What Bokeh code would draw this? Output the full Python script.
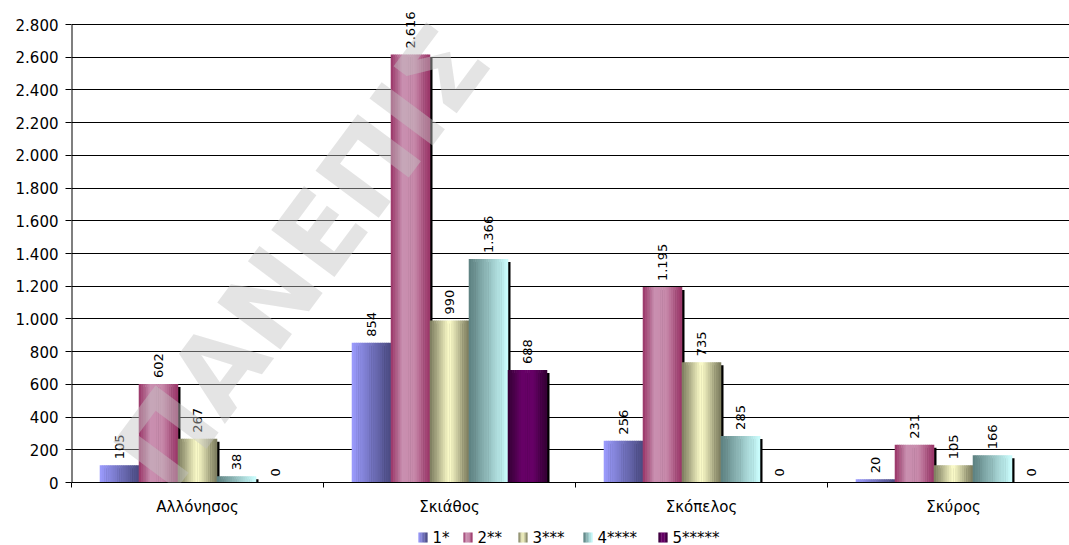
import math
from bokeh.plotting import figure
from bokeh.layouts import column
from bokeh.models import (ColumnDataSource, Range1d, FixedTicker, Label)
from bokeh.embed import file_html
from bokeh.resources import INLINE
from bokeh.core.properties import value

# ---- data ----
categories = ["Αλλόνησος", "Σκιάθος", "Σκόπελος", "Σκύρος"]
series_names = ["1*", "2**", "3***", "4****", "5*****"]
s1 = [105, 854, 256, 20]
s2 = [602, 2616, 1195, 231]
s3 = [267, 990, 735, 105]
s4 = [38, 1366, 285, 166]
s5 = [0, 688, 0, 0]
y_ticks = list(range(0, 2801, 200))

series_values = [s1, s2, s3, s4, s5]

# gradient stops per series (position, colour)
gradients = [
    [(0.0, "#9C9CFF"), (1.0, "#4A4A80")],
    [(0.0, "#993366"), (0.3, "#C98FB0"), (0.6, "#C88AAB"), (1.0, "#993366")],
    [(0.0, "#7A7A5C"), (0.5, "#FFFFCC"), (1.0, "#7A7A5C")],
    [(0.0, "#5C7F7F"), (1.0, "#CCFFFF")],
    [(0.0, "#330033"), (0.35, "#660066"), (0.65, "#660066"), (1.0, "#330033")],
]


def hex2rgb(h):
    h = h.lstrip("#")
    return tuple(int(h[i:i + 2], 16) for i in (0, 2, 4))


def grad_color(stops, t):
    for (p0, c0), (p1, c1) in zip(stops[:-1], stops[1:]):
        if p0 <= t <= p1:
            f = 0 if p1 == p0 else (t - p0) / (p1 - p0)
            a, b = hex2rgb(c0), hex2rgb(c1)
            return "#%02x%02x%02x" % tuple(int(round(a[k] + (b[k] - a[k]) * f)) for k in range(3))
    return stops[-1][1]


def fmt(v):
    return f"{v:,}".replace(",", ".")


# ---- main figure ----
LEFT = 71
FRAME_W = 998
PX_PER_UNIT_Y = 458.0 / 2800.0      # 2800 units over 458 px
TOP_PAD_PX = 24                      # room above the 2.800 line for labels
FRAME_H = 458 + TOP_PAD_PX
Y_END = FRAME_H / PX_PER_UNIT_Y
BOTTOM = 47

p = figure(width=LEFT + FRAME_W, height=FRAME_H + BOTTOM, output_backend="svg",
           toolbar_location=None, min_border_left=LEFT, min_border_top=0,
           min_border_right=0, min_border_bottom=BOTTOM,
           x_range=Range1d(0, FRAME_W / 252.0), y_range=Range1d(0, Y_END))
p.outline_line_color = None
p.background_fill_color = "white"
p.border_fill_color = "white"

n_cat = len(categories)
n_ser = len(series_names)
bar_w = 39.0 / 252.0
centers = [i + 0.5 for i in range(n_cat)]
px_x = 1.0 / 252.0
px_y = 1.0 / PX_PER_UNIT_Y


def bar_x(ci, si):
    return centers[ci] + (si - (n_ser - 1) / 2.0) * bar_w


p.xgrid.visible = False
p.ygrid.ticker = FixedTicker(ticks=y_ticks)
p.ygrid.grid_line_color = "black"
p.ygrid.grid_line_width = 1

# shadows
for si, vals in enumerate(series_values):
    xs = [bar_x(ci, si) + 2.5 * px_x for ci in range(n_cat) if vals[ci] > 0]
    tops = [v - 3 * px_y for v in vals if v > 0]
    p.vbar(x=xs, top=tops, bottom=0, width=bar_w, fill_color="black",
           line_color=None)

# gradient bars
N = 18
for si, vals in enumerate(series_values):
    xs, tops, cols = [], [], []
    sw = bar_w / N
    for ci in range(n_cat):
        if vals[ci] <= 0:
            continue
        x0 = bar_x(ci, si) - bar_w / 2
        for k in range(N):
            t = (k + 0.5) / N
            xs.append(x0 + (k + 0.5) * sw)
            tops.append(vals[ci])
            cols.append(grad_color(gradients[si], t))
    src = ColumnDataSource(dict(x=xs, top=tops, color=cols))
    p.vbar(x="x", top="top", bottom=0, width=sw * 1.25, fill_color="color",
           line_color=None, source=src)

# y axis line from 0 to 2.800 only
p.segment(x0=[0], y0=[0], x1=[0], y1=[y_ticks[-1]], line_color="black", line_width=2)

# data labels
lx, ly, lt = [], [], []
for si, vals in enumerate(series_values):
    for ci in range(n_cat):
        lx.append(bar_x(ci, si))
        ly.append(vals[ci])
        lt.append(fmt(vals[ci]))
p.text(x=lx, y=ly, text=lt, angle=math.pi / 2, text_align="left",
       text_baseline="middle", y_offset=-6, text_font=value("DejaVu Sans"),
       text_font_size="13px", text_color="black")

# axes
p.yaxis.ticker = FixedTicker(ticks=y_ticks)
p.yaxis.major_label_overrides = {t: fmt(t) for t in y_ticks}
p.yaxis.major_tick_in = 0
p.yaxis.major_tick_out = 6
p.yaxis.minor_tick_line_color = None
p.yaxis.axis_line_color = None
p.yaxis.major_tick_line_color = "black"
p.yaxis.major_label_text_font = "DejaVu Sans"
p.yaxis.major_label_text_font_size = "15px"
p.yaxis.major_label_text_color = "black"
p.yaxis.major_label_standoff = 7

p.xaxis.ticker = FixedTicker(ticks=centers, minor_ticks=list(range(n_cat + 1)))
p.xaxis.major_label_overrides = {c: categories[i] for i, c in enumerate(centers)}
p.xaxis.major_tick_line_color = None
p.xaxis.major_tick_in = 0
p.xaxis.major_tick_out = 5
p.xaxis.minor_tick_in = 0
p.xaxis.minor_tick_out = 5
p.xaxis.minor_tick_line_color = "black"
p.xaxis.axis_line_color = "black"
p.xaxis.major_label_text_font = "DejaVu Sans"
p.xaxis.major_label_text_font_size = "15px"
p.xaxis.major_label_text_color = "black"
p.xaxis.major_label_standoff = 10

# watermark
wm = Label(x=(140 - LEFT) / 252.0, y=(FRAME_H - 474) * px_y, text="ΠΑΝΕΠΙΣ",
           angle=0.93, text_font="DejaVu Sans", text_font_size="108px",
           text_font_style="bold",
           text_color="#C4C4C4", text_alpha=0.45, text_align="left",
           text_baseline="alphabetic")
p.add_layout(wm)

# ---- legend strip (pixel coordinates) ----
LEG_H = 545 - (FRAME_H + BOTTOM)
lf = figure(width=LEFT + FRAME_W, height=LEG_H, output_backend="svg",
            toolbar_location=None, min_border_left=LEFT, min_border_right=0,
            min_border_top=0, min_border_bottom=0,
            x_range=Range1d(0, FRAME_W), y_range=Range1d(0, LEG_H))
lf.axis.visible = False
lf.grid.visible = False
lf.outline_line_color = None
lf.background_fill_color = "white"
lf.border_fill_color = "white"

legend_left = [418, 463, 518, 583, 658]     # item positions (layout)
SW_W, SW_H, MID = 9, 10, 8
NS = 6
sx, sc, tx = [], [], []
for si in range(n_ser):
    x0 = legend_left[si] - LEFT
    for k in range(NS):
        sx.append(x0 + (k + 0.5) * SW_W / NS)
        sc.append(grad_color(gradients[si], (k + 0.5) / NS))
    tx.append(x0 + SW_W + 5)
lf.vbar(x=sx, bottom=MID - SW_H / 2, top=MID + SW_H / 2, width=SW_W / NS * 1.2,
        fill_color=sc, line_color=None)
lf.text(x=tx, y=[MID] * n_ser, text=series_names, text_align="left",
        text_baseline="middle", text_font=value("DejaVu Sans"),
        text_font_size="15px", text_color="black")

layout = column(p, lf, spacing=0)
open("out.html", "w").write(file_html(layout, INLINE))
